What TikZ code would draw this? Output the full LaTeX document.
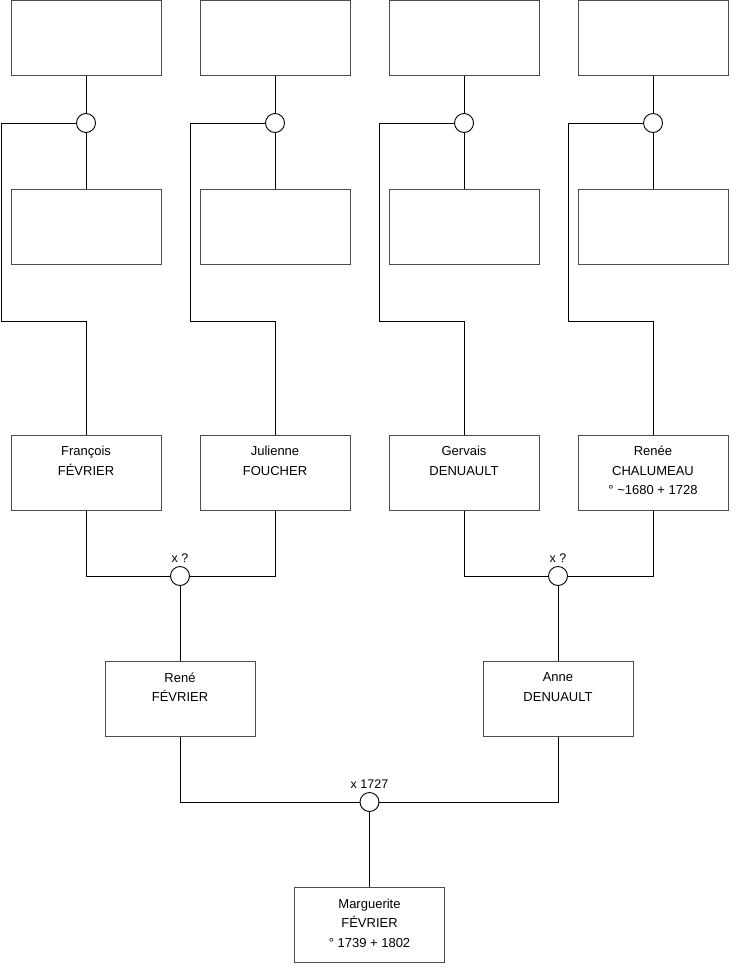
\documentclass[tikz,border=0pt]{standalone}
\usepackage{fontspec}
\setmainfont{Liberation Sans}
\begin{document}
\begin{tikzpicture}[x=1pt,y=-1pt,
  pbox/.style={draw=black!70, line width=1pt, fill=white, minimum width=150pt, minimum height=75pt, inner sep=0pt},
  txt/.style={anchor=north, align=center, inner sep=0pt, yshift=-11.5pt, font=\fontsize{13}{19.5}\selectfont},
  marr/.style={circle, draw=black, line width=0.9pt, fill=white, minimum size=19pt, inner sep=0pt},
  lnk/.style={draw=black, line width=0.9pt},
  mlab/.style={font=\fontsize{12.5}{15}\selectfont, inner sep=0pt}]
\useasboundingbox (0,0) rectangle (740,975);
% generation 4 (top)
\node[pbox] (g1) at (86,38) {};
\node[pbox] (g2) at (275,38) {};
\node[pbox] (g3) at (464,38) {};
\node[pbox] (g4) at (653,38) {};
\node[pbox] (h1) at (86,227) {};
\node[pbox] (h2) at (275,227) {};
\node[pbox] (h3) at (464,227) {};
\node[pbox] (h4) at (653,227) {};
\node[marr] (c1) at (86,123) {};
\node[marr] (c2) at (275,123) {};
\node[marr] (c3) at (464,123) {};
\node[marr] (c4) at (653,123) {};
% generation 3
\node[pbox, label={[txt]north:{François\\FÉVRIER}}] (f1) at (86,472.5) {};
\node[pbox, label={[txt]north:{Julienne\\FOUCHER}}] (f2) at (275,472.5) {};
\node[pbox, label={[txt]north:{Gervais\\DENUAULT}}] (f3) at (464,472.5) {};
\node[pbox, label={[txt]north:{Renée\\CHALUMEAU\\° \textasciitilde 1680 + 1728}}] (f4) at (653,472.5) {};
% corner points
\coordinate (k1) at (1.5,321);
\coordinate (k2) at (190.5,321);
\coordinate (k3) at (379.5,321);
\coordinate (k4) at (568.5,321);
\foreach \i in {1,2,3,4}{
  \draw[lnk] (g\i.south) -- (c\i.north);
  \draw[lnk] (c\i.south) -- (h\i.north);
  \draw[lnk] (c\i.west) -| (k\i) -| (f\i.north);
}
% generation 2
\node[marr] (m1) at (180,576) {};
\node[marr] (m2) at (558,576) {};
\node[mlab, anchor=south] (l1) at ([yshift=3pt]m1.north) {x ?};
\node[mlab, anchor=south] (l2) at ([yshift=3pt]m2.north) {x ?};
\draw[lnk] (f1.south) |- (m1.west);
\draw[lnk] (f2.south) |- (m1.east);
\draw[lnk] (f3.south) |- (m2.west);
\draw[lnk] (f4.south) |- (m2.east);
\node[pbox, label={[txt]north:{René\\FÉVRIER}}] (r) at (180,699) {};
\node[pbox, label={[txt]north:{Anne\\DENUAULT}}] (a) at (558,699) {};
\draw[lnk] (m1.south) -- (r.north);
\draw[lnk] (m2.south) -- (a.north);
% generation 1
\node[marr] (m3) at (369.5,802) {};
\node[mlab, anchor=south] (l3) at ([yshift=3pt]m3.north) {x 1727};
\draw[lnk] (r.south) |- (m3.west);
\draw[lnk] (a.south) |- (m3.east);
\node[pbox, label={[txt]north:{Marguerite\\FÉVRIER\\° 1739 + 1802}}] (mg) at (369.5,925) {};
\draw[lnk] (m3.south) -- (mg.north);
\end{tikzpicture}
\end{document}
